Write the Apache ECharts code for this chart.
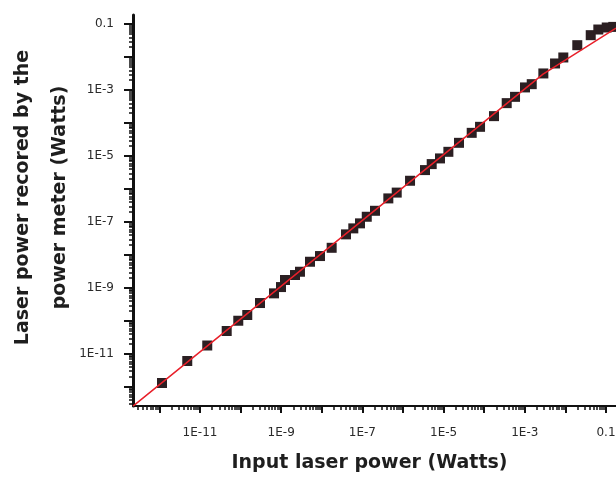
<!DOCTYPE html>
<html>
<head>
<meta charset="utf-8">
<script src="https://cdn.jsdelivr.net/npm/echarts@6/dist/echarts.min.js"></script>
<style>
  html, body { margin: 0; padding: 0; background: #fff; }
  #chart { width: 616px; height: 477px; }
</style>
</head>
<body>
<div id="chart"></div>
<script>
// measured points (input power, recorded power), Watts
var inputPower = [
    1.16e-12, 4.86e-12, 1.51e-11, 4.55e-11, 8.77e-11, 1.46e-10, 3.01e-10, 6.65e-10,
    9.89e-10, 1.24e-9, 2.19e-9, 2.90e-9, 5.12e-9, 9.04e-9, 1.75e-8, 3.94e-8,
    5.97e-8, 8.73e-8, 1.28e-7, 2.04e-7, 4.35e-7, 7.00e-7, 1.49e-6, 3.48e-6,
    5.09e-6, 8.15e-6, 1.31e-5, 2.39e-5, 4.92e-5, 7.89e-5, 1.74e-4, 3.58e-4,
    5.74e-4, 1.01e-3, 1.48e-3, 2.86e-3, 5.55e-3, 8.87e-3, 1.96e-2, 4.20e-2,
    6.46e-2, 0.104, 0.151
];
var meterPower = [
    1.32e-12, 6.14e-12, 1.81e-11, 4.98e-11, 1.02e-10, 1.52e-10, 3.51e-10, 6.90e-10,
    1.07e-9, 1.75e-9, 2.48e-9, 3.12e-9, 6.27e-9, 9.33e-9, 1.66e-8, 4.24e-8,
    6.44e-8, 9.14e-8, 1.45e-7, 2.20e-7, 5.22e-7, 7.83e-7, 1.79e-6, 3.77e-6,
    5.73e-6, 8.51e-6, 1.35e-5, 2.53e-5, 5.08e-5, 7.73e-5, 1.63e-4, 4.04e-4,
    6.27e-4, 1.21e-3, 1.52e-3, 3.21e-3, 6.44e-3, 9.79e-3, 2.31e-2, 4.65e-2,
    6.90e-2, 0.0794, 0.0828
];
// fitted curve (red)
var fitX = [2.24e-13, 2.81e-3, 0.176];
var fitY = [2.63e-13, 3.05e-3, 0.0757];

var xMin = 2.24e-13, xMax = 0.176;
var yMin = 2.65e-13, yMax = 0.19;

var labelValues = [1e-11, 1e-9, 1e-7, 1e-5, 1e-3, 0.1];
var decades = [1e-13, 1e-12, 1e-11, 1e-10, 1e-9, 1e-8, 1e-7, 1e-6, 1e-5, 1e-4, 1e-3, 1e-2, 0.1, 1];

function majors(min, max) {
    return decades.filter(function (v) { return v >= min && v <= max; });
}
function minors(min, max) {
    var res = [];
    decades.forEach(function (d) {
        for (var m = 2; m <= 9; m++) {
            var v = m * d;
            if (v >= min && v <= max) res.push(v);
        }
    });
    return res;
}
function fmt(v) {
    var e = Math.round(Math.log10(v));
    return e === -1 ? '0.1' : '1E' + e;
}

var labelStyle = {
    color: '#2a2a2a',
    fontFamily: 'DejaVu Sans, sans-serif',
    fontSize: 12
};
var nameStyle = {
    color: '#1e1e1e',
    fontFamily: 'DejaVu Sans, sans-serif',
    fontSize: 19,
    fontWeight: 'bold'
};

var chart = echarts.init(document.getElementById('chart'));
chart.setOption({
    animation: false,
    backgroundColor: '#fff',
    grid: {
        left: 133,
        right: 0,
        top: 15,
        bottom: 71,
        containLabel: false,
        outerBoundsMode: 'none'
    },
    xAxis: [{
        type: 'log',
        min: xMin,
        max: xMax,
        position: 'bottom',
        name: 'Input laser power (Watts)',
        nameLocation: 'middle',
        nameGap: 48,
        nameTextStyle: Object.assign({padding: [0, 10, 0, 0]}, nameStyle),
        axisLine: {lineStyle: {color: '#111', width: 2}},
        axisTick: {customValues: majors(xMin, xMax), length: 7, lineStyle: {color: '#111', width: 2}},
        axisLabel: {customValues: labelValues, formatter: fmt, margin: 21, textStyle: labelStyle},
        splitLine: {show: false}
    }, {
        type: 'log',
        min: xMin,
        max: xMax,
        position: 'bottom',
        axisLine: {show: false},
        axisTick: {customValues: minors(xMin, xMax), length: 4, lineStyle: {color: '#111', width: 1.5}},
        axisLabel: {show: false},
        splitLine: {show: false}
    }],
    yAxis: [{
        type: 'log',
        min: yMin,
        max: yMax,
        position: 'left',
        name: 'Laser power recored by the\npower meter (Watts)',
        nameLocation: 'middle',
        nameGap: 54,
        nameMoveOverlap: false,
        nameTextStyle: Object.assign({lineHeight: 37, padding: [0, 0, 0, 26]}, nameStyle),
        axisLine: {lineStyle: {color: '#111', width: 3}},
        axisTick: {customValues: majors(yMin, yMax), length: 9, lineStyle: {color: '#111', width: 2}},
        axisLabel: {customValues: labelValues, formatter: fmt, margin: 19, textStyle: labelStyle},
        splitLine: {show: false}
    }, {
        type: 'log',
        min: yMin,
        max: yMax,
        position: 'left',
        axisLine: {show: false},
        axisTick: {customValues: minors(yMin, yMax), length: 4, lineStyle: {color: '#111', width: 1.5}},
        axisLabel: {show: false},
        splitLine: {show: false}
    }],
    series: [{
        type: 'scatter',
        symbol: 'rect',
        symbolSize: 10,
        itemStyle: {color: '#2b1f22', opacity: 1},
        data: inputPower.map(function (x, i) { return [x, meterPower[i]]; }),
        clip: false
    }, {
        type: 'line',
        symbol: 'none',
        lineStyle: {color: '#e8202a', width: 1.5},
        data: fitX.map(function (x, i) { return [x, fitY[i]]; }),
        z: 3
    }]
});
</script>
</body>
</html>
